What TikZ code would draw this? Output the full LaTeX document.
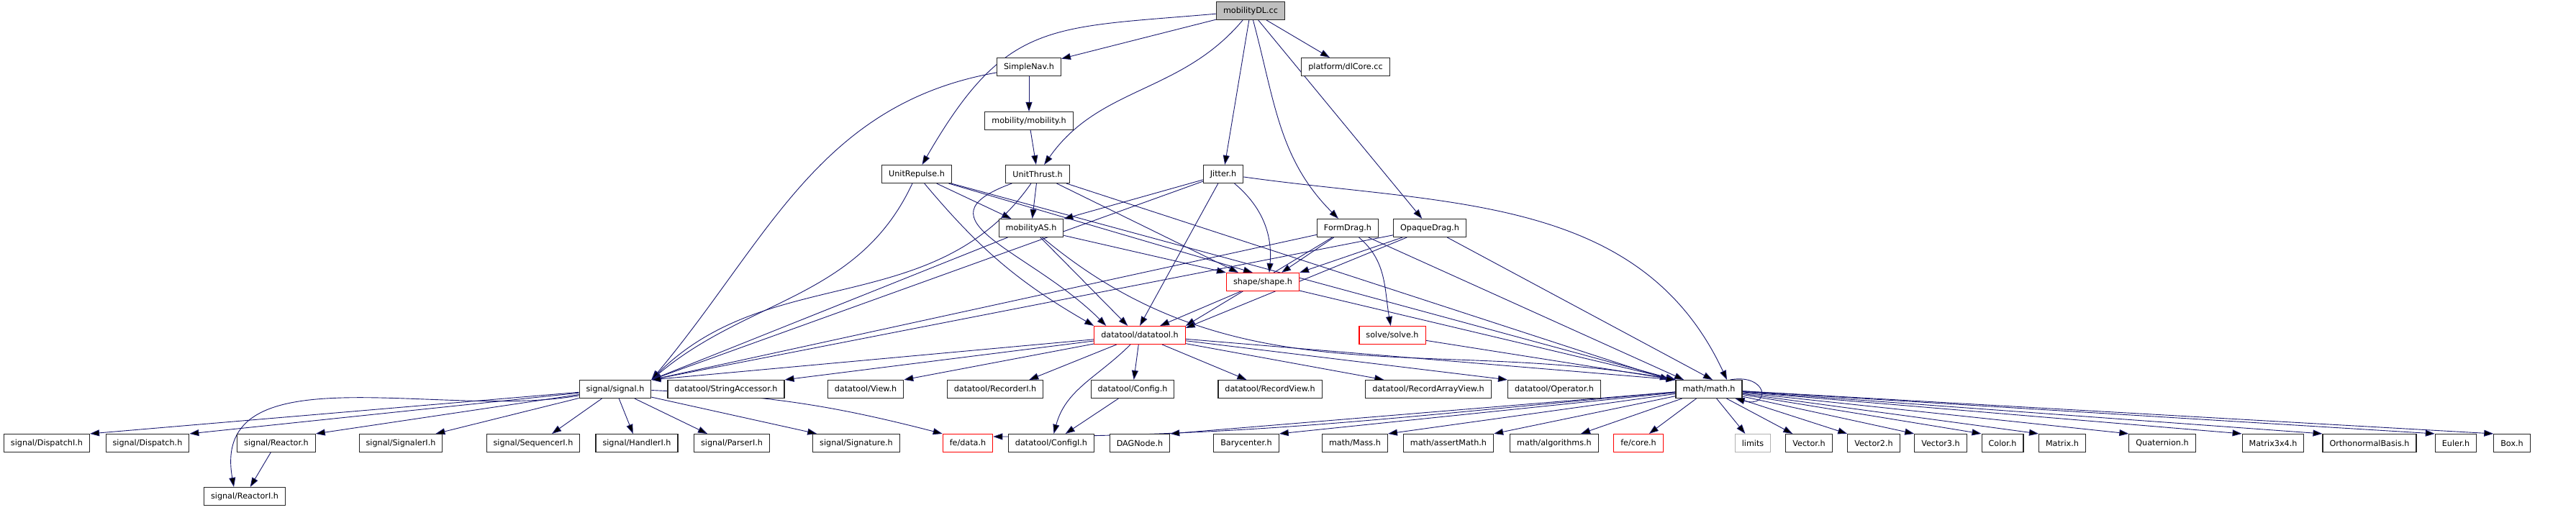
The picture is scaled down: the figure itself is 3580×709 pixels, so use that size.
\documentclass[tikz,border=0pt]{standalone}
\usepackage{fontspec}
\setmainfont{DejaVu Sans}
\usetikzlibrary{arrows.meta}
\usetikzlibrary{backgrounds}
\definecolor{edgeblue}{RGB}{25,25,112}
\begin{document}
\begin{tikzpicture}[x=1pt,y=1pt,>={Stealth[inset=0pt,length=13pt,width=9pt]},
        every node/.style={font=\fontsize{11.2}{13}\selectfont},
        file/.style={rectangle,draw=black!85,fill=white,line width=1.1pt,inner xsep=9.5pt,inner ysep=0pt,minimum height=25pt},
        trunc/.style={file,draw=red},
        ext/.style={file,draw=black!30},
        root/.style={file,fill=black!25},
        dep/.style={->,draw=edgeblue,line width=0.9pt}]
        \useasboundingbox (0,0) rectangle (3580,-709);
        \node[root]  (root)        at (1738,-15)  {mobilityDL.cc};
        \node[file]  (simplenav)   at (1430,-93)  {SimpleNav.h};
        \node[file]  (dlcore)      at (1870,-93)  {platform/dlCore.cc};
        \node[file]  (mobility)    at (1430,-168) {mobility/mobility.h};
        \node[file]  (unitrepulse) at (1274,-242) {UnitRepulse.h};
        \node[file]  (unitthrust)  at (1442,-242) {UnitThrust.h};
        \node[file]  (jitter)      at (1700,-242) {Jitter.h};
        \node[file]  (mobilityas)  at (1433,-317) {mobilityAS.h};
        \node[file]  (formdrag)    at (1873,-317) {FormDrag.h};
        \node[file]  (opaquedrag)  at (1987,-317) {OpaqueDrag.h};
        \node[trunc] (shape)       at (1755,-392) {shape/shape.h};
        \node[trunc] (datatool)    at (1584,-466) {datatool/datatool.h};
        \node[trunc] (solve)       at (1935,-466) {solve/solve.h};
        \node[file]  (signal)      at (855,-541)  {signal/signal.h};
        \node[file]  (stringacc)   at (1009,-541) {datatool/StringAccessor.h};
        \node[file]  (view)        at (1203,-541) {datatool/View.h};
        \node[file]  (recorderi)   at (1383,-541) {datatool/RecorderI.h};
        \node[file]  (config)      at (1574,-541) {datatool/Config.h};
        \node[file]  (recordview)  at (1765,-541) {datatool/RecordView.h};
        \node[file]  (recordarray) at (1985,-541) {datatool/RecordArrayView.h};
        \node[file]  (operator)    at (2160,-541) {datatool/Operator.h};
        \node[file]  (math)        at (2375,-541) {math/math.h};
        \node[file]  (dispatchi)   at (65,-616)   {signal/DispatchI.h};
        \node[file]  (dispatch)    at (205,-616)  {signal/Dispatch.h};
        \node[file]  (reactor)     at (384,-616)  {signal/Reactor.h};
        \node[file]  (signaleri)   at (557,-616)  {signal/SignalerI.h};
        \node[file]  (sequenceri)  at (741,-616)  {signal/SequencerI.h};
        \node[file]  (handleri)    at (885,-616)  {signal/HandlerI.h};
        \node[file]  (parseri)     at (1017,-616) {signal/ParserI.h};
        \node[file]  (signature)   at (1190,-616) {signal/Signature.h};
        \node[trunc] (fedata)      at (1345,-616) {fe/data.h};
        \node[file]  (configi)     at (1461,-616) {datatool/ConfigI.h};
        \node[file]  (dagnode)     at (1584,-616) {DAGNode.h};
        \node[file]  (barycenter)  at (1732,-616) {Barycenter.h};
        \node[file]  (mass)        at (1883,-616) {math/Mass.h};
        \node[file]  (assertmath)  at (2013,-616) {math/assertMath.h};
        \node[file]  (algorithms)  at (2160,-616) {math/algorithms.h};
        \node[trunc] (fecore)      at (2277,-616) {fe/core.h};
        \node[ext]   (limits)      at (2436,-616) {limits};
        \node[file]  (vector)      at (2514,-616) {Vector.h};
        \node[file]  (vectortwo)   at (2604,-616) {Vector2.h};
        \node[file]  (vectorthree) at (2697,-616) {Vector3.h};
        \node[file]  (color)       at (2783,-616) {Color.h};
        \node[file]  (matrix)      at (2866,-616) {Matrix.h};
        \node[file]  (quaternion)  at (3005,-616) {Quaternion.h};
        \node[file]  (matrixtxf)   at (3159,-616) {Matrix3x4.h};
        \node[file]  (orthobasis)  at (3293,-616) {OrthonormalBasis.h};
        \node[file]  (euler)       at (3413,-616) {Euler.h};
        \node[file]  (box)         at (3491,-616) {Box.h};
        \node[file]  (reactori)    at (340,-690)  {signal/ReactorI.h};
        \begin{pgfonlayer}{background}
        \path[dep]
          (root) edge (simplenav)
                 edge (dlcore)
                 edge[out=185,in=60,looseness=1.3] (unitrepulse)
                 edge[out=230,in=55] (unitthrust)
                 edge (jitter)
                 edge[out=285,in=135] (formdrag)
                 edge (opaquedrag)
          (simplenav) edge (mobility)
                 edge[out=190,in=50] (signal.north east)
          (mobility) edge (unitthrust)
          (unitrepulse) edge[out=245,in=40] (signal.north east)
                 edge[bend right=10] (datatool.north west)
                 edge (mobilityas)
                 edge ([xshift=37pt]shape.north west)
                 edge (math.north west)
          (unitthrust) edge[out=235,in=45] (signal.north east)
                 edge[out=200,in=135,looseness=1.6] ([xshift=17pt]datatool.north west)
                 edge (mobilityas)
                 edge ([xshift=17pt]shape.north west)
                 edge ([xshift=-55pt]math.north)
          (jitter) edge (mobilityas)
                 edge (signal.north east)
                 edge (datatool.north)
                 edge[out=-40,in=85] ([xshift=60pt]shape.north west)
                 edge[out=-8,in=115] ([xshift=25pt]math.north)
          (mobilityas) edge (signal.north east)
                 edge ([xshift=47pt]datatool.north west)
                 edge (shape.north west)
                 edge[out=-40,in=170] (math.north west)
          (formdrag) edge ([xshift=77pt]shape.north west)
                 edge (signal.north east)
                 edge (datatool.north east)
                 edge[out=-40,in=100] (solve)
                 edge ([xshift=-35pt]math.north)
          (opaquedrag) edge (shape.north east)
                 edge (signal.north east)
                 edge ([yshift=-3pt]datatool.north east)
                 edge ([xshift=5pt]math.north)
          (shape) edge ([xshift=28pt]datatool.north)
                 edge (math.north west)
          (solve) edge (math.north west)
          (datatool) edge (signal.north east)
                 edge (stringacc.north east)
                 edge (view.north east)
                 edge ([xshift=-20pt]recorderi.north east)
                 edge (config)
                 edge[out=225,in=75] (configi)
                 edge ([xshift=40pt]recordview.north west)
                 edge ([xshift=26pt]recordarray.north west)
                 edge (operator.north west)
                 edge (math.north west)
          (config) edge (configi)
          (signal) edge (dispatchi.north east)
                 edge (dispatch.north east)
                 edge[out=190,in=100] ([xshift=42pt]reactori.north west)
                 edge (reactor.north east)
                 edge ([xshift=-10pt]signaleri.north east)
                 edge ([xshift=26pt]sequenceri.north)
                 edge (handleri)
                 edge ([xshift=19pt]parseri.north west)
                 edge ([xshift=6pt]signature.north west)
                 edge[bend left=6] (fedata.north west)
          (reactor) edge (reactori)
          (math) edge[out=185,in=0] ([yshift=-4pt]fedata.north east)
                 edge (dagnode.north east)
                 edge (barycenter.north east)
                 edge (mass.north east)
                 edge (assertmath.north east)
                 edge ([xshift=37pt]algorithms.north)
                 edge ([xshift=-20pt]fecore.north east)
                 edge (limits)
                 edge ([xshift=10pt]vector.north west)
                 edge (vectortwo.north west)
                 edge (vectorthree.north west)
                 edge (color.north west)
                 edge (matrix.north west)
                 edge (quaternion.north west)
                 edge (matrixtxf.north west)
                 edge (orthobasis.north west)
                 edge (euler.north west)
                 edge (box.north west);
        \path[dep] ([xshift=-17pt]math.north east) edge[out=10,in=-15,looseness=5] ([xshift=-10pt]math.south east);
        \end{pgfonlayer}
      \end{tikzpicture}
\end{document}
